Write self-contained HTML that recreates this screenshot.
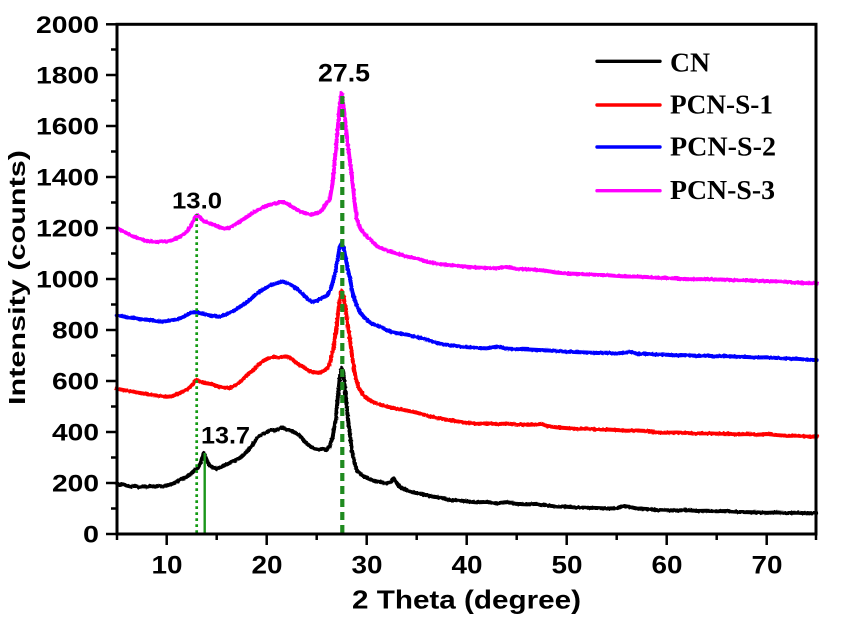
<!DOCTYPE html>
<html>
<head>
<meta charset="utf-8">
<style>
  html, body { margin: 0; padding: 0; background: #ffffff; }
  svg { display: block; }
  .tk { font-family: "Liberation Sans", Arial, sans-serif; font-weight: bold; fill: #000; }
  .lg { font-family: "Liberation Serif", "Times New Roman", serif; font-weight: bold; fill: #000; }
</style>
</head>
<body>
<svg width="865" height="617" viewBox="0 0 865 617" xmlns="http://www.w3.org/2000/svg">
  <defs>
    <filter id="rough" x="0" y="0" width="865" height="617" filterUnits="userSpaceOnUse">
      <feTurbulence type="fractalNoise" baseFrequency="0.45" numOctaves="1" seed="3" result="n"/>
      <feDisplacementMap in="SourceGraphic" in2="n" scale="2.2" xChannelSelector="R" yChannelSelector="G"/>
    </filter>
  </defs>
  <rect x="0" y="0" width="865" height="617" fill="#ffffff"/>

  <!-- data curves (data coordinates: x in degrees, y in counts) -->
  <g filter="url(#rough)">
  <g transform="matrix(10 0 0 -0.255 66.7 534)" fill="none" stroke-linejoin="round" stroke-linecap="round">
    <polyline vector-effect="non-scaling-stroke" stroke="#000000" stroke-width="4" points="5,198 5.3,192 5.6,195 6,190 6.4,186 6.8,189 7.2,184 7.6,187 8,185 8.4,188 8.8,185 9.2,189 9.6,186 10,190 10.4,195 10.8,200 11.2,210 11.6,218 12,224 12.4,236 12.8,250 13.1,258 13.4,280 13.7,318 14,290 14.3,268 14.7,260 15,256 15.4,262 15.8,270 16.2,276 16.6,285 17,292 17.4,300 17.8,315 18.2,330 18.6,350 19,375 19.3,385 19.6,392 20,400 20.4,408 20.8,405 21.2,412 21.6,418 22,410 22.4,405 22.8,398 23.2,390 23.6,372 24,355 24.4,342 24.8,335 25.2,332 25.6,334 26,330 26.3,345 26.6,380 26.9,450 27.1,530 27.3,610 27.5,652 27.7,620 27.9,540 28.1,460 28.3,400 28.5,330 28.8,275 29.1,245 29.5,232 30,220 30.5,212 31,206 31.5,203 32,198 32.4,205 32.7,218 33,200 33.4,182 34,172 34.5,165 35,160 35.5,156 36,152 36.7,146 37.3,143 38,136 38.5,131 39,133 40,128 41,124 42,126 43,120 44,125 45,118 46,116 47,118 48,112 49,108 50,107 51,104 52,103 53,102 54,100 55,101 55.7,110 56.3,106 57,100 58,98 59,94 60,93 61,92 62,94 63,90 64,91 65,89 66,90 67,87 68,86 69,85 70,83 71,85 72,82 73,84 74,81 75,83"/>
    <polyline vector-effect="non-scaling-stroke" stroke="#ff0000" stroke-width="4" points="5,570 5.5,566 6,562 6.5,560 7,555 7.5,552 8,548 8.5,545 9,543 9.5,540 10,538 10.5,540 11,548 11.5,556 12,565 12.4,578 12.8,598 13,604 13.3,598 13.7,592 14.2,590 14.7,585 15.2,578 15.7,574 16.2,572 16.7,580 17.2,592 17.7,610 18.2,628 18.7,645 19.2,665 19.7,680 20.2,690 20.7,695 21.2,692 21.7,696 22.2,694 22.7,680 23.2,665 23.7,655 24.2,640 24.7,635 25.2,632 25.7,640 26.1,650 26.4,680 26.7,735 27,820 27.3,920 27.5,955 27.7,930 28,850 28.3,770 28.6,680 28.9,610 29.2,575 29.6,548 30,532 30.5,520 31,512 31.5,505 32,500 32.5,495 33,492 33.5,488 34,484 34.5,480 35,476 35.5,470 36,465 36.5,460 37,456 37.5,452 38,448 38.5,446 39,442 40,436 41,432 42,434 43,431 44,433 45,430 46,428 47,430 47.5,432 48,424 49,418 50,415 51,412 52,414 53,410 54,410 55,408 56,405 57,406 58,404 59,398 60,397 61,398 62,396 63,394 64,395 65,393 66,394 67,390 68,392 69,389 70,392 71,388 72,385 73,386 74,382 75,382"/>
    <polyline vector-effect="non-scaling-stroke" stroke="#0000ff" stroke-width="4" points="5,858 5.5,855 6,850 6.5,848 7,845 7.5,842 8,840 8.5,838 9,835 9.5,833 10,835 10.5,838 11,842 11.5,848 12,858 12.4,868 12.8,870 13.2,868 13.7,862 14.2,858 14.7,855 15.2,852 15.7,858 16.2,865 16.7,875 17.2,888 17.7,900 18.2,915 18.7,932 19.2,948 19.7,960 20.2,972 20.7,980 21.2,986 21.6,990 22,985 22.5,975 23,962 23.5,945 24,925 24.5,910 25,915 25.5,925 26,935 26.4,960 26.8,1015 27.1,1080 27.3,1125 27.5,1142 27.7,1120 28,1060 28.3,1005 28.6,945 29,895 29.4,865 30,840 30.5,825 31,818 31.5,810 32,800 32.5,792 33,788 33.5,785 34,782 34.5,778 35,772 35.5,768 36,762 36.5,756 37,750 37.5,745 38,742 39,737 40,733 41,730 42,728 43,735 44,727 45,725 46,724 47,722 48,720 49,718 50,715 51,713 52,712 53,710 54,711 55,708 56,712 56.5,714 57,707 58,706 59,704 60,703 61,700 62,702 63,698 64,699 65,697 66,698 67,695 68,694 69,692 70,693 71,690 72,688 73,687 74,684 75,682"/>
    <polyline vector-effect="non-scaling-stroke" stroke="#ff00ff" stroke-width="4" points="5,1200 5.5,1190 6,1180 6.5,1170 7,1162 7.5,1155 8,1150 8.5,1147 9,1145 9.5,1148 10,1146 10.5,1152 11,1160 11.5,1170 12,1185 12.4,1205 12.8,1240 13,1250 13.3,1242 13.7,1228 14.2,1220 14.7,1212 15.2,1205 15.7,1198 16.2,1200 16.7,1210 17.2,1222 17.7,1235 18.2,1248 18.7,1262 19.2,1272 19.7,1282 20.2,1290 20.7,1295 21.2,1300 21.6,1302 22,1296 22.5,1285 23,1272 23.5,1262 24,1256 24.5,1252 25,1258 25.5,1268 26,1298 26.3,1310 26.6,1380 27,1545 27.3,1680 27.5,1730 27.8,1640 28.1,1530 28.5,1410 28.8,1300 29,1235 29.4,1195 30,1168 30.5,1150 31,1130 31.5,1120 32,1112 32.5,1106 33,1100 33.5,1095 34,1088 34.5,1084 35,1080 35.5,1075 36,1068 36.5,1064 37,1060 37.5,1058 38,1055 39,1052 40,1048 41,1045 42,1043 43,1042 44,1047 45,1040 46,1038 47,1036 48,1032 49,1025 50,1022 51,1020 52,1018 53,1016 54,1015 55,1012 56,1010 57,1010 58,1008 59,1005 60,1004 61,1002 62,1000 63,999 64,1000 65,998 66,997 67,995 68,996 69,993 70,992 71,990 72,989 73,986 74,984 75,983"/>
  </g>
  </g>

  <!-- green marker lines -->
  <line x1="196.7" y1="533" x2="196.7" y2="214" stroke="#129a12" stroke-width="2.7" stroke-dasharray="2.7 3.3"/>
  <line x1="204.7" y1="533" x2="204.7" y2="453" stroke="#1a961a" stroke-width="2.4"/>
  <line x1="342.3" y1="533" x2="342.3" y2="93" stroke="#1f8a1f" stroke-width="4.2" stroke-dasharray="8 5"/>

  <!-- axes frame -->
  <rect x="117" y="24.3" width="699" height="509.7" fill="none" stroke="#000" stroke-width="3"/>

  <!-- y ticks -->
  <g stroke="#000" stroke-width="2.5">
    <line x1="106" y1="534" x2="117" y2="534"/>
    <line x1="106" y1="483" x2="117" y2="483"/>
    <line x1="106" y1="432" x2="117" y2="432"/>
    <line x1="106" y1="381" x2="117" y2="381"/>
    <line x1="106" y1="330" x2="117" y2="330"/>
    <line x1="106" y1="279" x2="117" y2="279"/>
    <line x1="106" y1="228" x2="117" y2="228"/>
    <line x1="106" y1="177" x2="117" y2="177"/>
    <line x1="106" y1="126" x2="117" y2="126"/>
    <line x1="106" y1="75" x2="117" y2="75"/>
    <line x1="106" y1="24.3" x2="117" y2="24.3"/>
    <line x1="111" y1="508.5" x2="117" y2="508.5"/>
    <line x1="111" y1="457.5" x2="117" y2="457.5"/>
    <line x1="111" y1="406.5" x2="117" y2="406.5"/>
    <line x1="111" y1="355.5" x2="117" y2="355.5"/>
    <line x1="111" y1="304.5" x2="117" y2="304.5"/>
    <line x1="111" y1="253.5" x2="117" y2="253.5"/>
    <line x1="111" y1="202.5" x2="117" y2="202.5"/>
    <line x1="111" y1="151.5" x2="117" y2="151.5"/>
    <line x1="111" y1="100.5" x2="117" y2="100.5"/>
    <line x1="111" y1="49.5" x2="117" y2="49.5"/>
  </g>

  <!-- x ticks -->
  <g stroke="#000" stroke-width="2.5">
    <line x1="166.7" y1="534" x2="166.7" y2="545"/>
    <line x1="266.7" y1="534" x2="266.7" y2="545"/>
    <line x1="366.7" y1="534" x2="366.7" y2="545"/>
    <line x1="466.7" y1="534" x2="466.7" y2="545"/>
    <line x1="566.7" y1="534" x2="566.7" y2="545"/>
    <line x1="666.7" y1="534" x2="666.7" y2="545"/>
    <line x1="766.7" y1="534" x2="766.7" y2="545"/>
    <line x1="117" y1="534" x2="117" y2="540"/>
    <line x1="216.7" y1="534" x2="216.7" y2="540"/>
    <line x1="316.7" y1="534" x2="316.7" y2="540"/>
    <line x1="416.7" y1="534" x2="416.7" y2="540"/>
    <line x1="516.7" y1="534" x2="516.7" y2="540"/>
    <line x1="616.7" y1="534" x2="616.7" y2="540"/>
    <line x1="716.7" y1="534" x2="716.7" y2="540"/>
    <line x1="816" y1="534" x2="816" y2="540"/>
  </g>

  <!-- y tick labels -->
  <g class="tk" font-size="24.5" text-anchor="end">
    <text x="99" y="542.7" textLength="16" lengthAdjust="spacingAndGlyphs">0</text>
    <text x="99" y="491.7" textLength="47" lengthAdjust="spacingAndGlyphs">200</text>
    <text x="99" y="440.7" textLength="47" lengthAdjust="spacingAndGlyphs">400</text>
    <text x="99" y="389.7" textLength="47" lengthAdjust="spacingAndGlyphs">600</text>
    <text x="99" y="338.7" textLength="47" lengthAdjust="spacingAndGlyphs">800</text>
    <text x="99" y="287.7" textLength="63" lengthAdjust="spacingAndGlyphs">1000</text>
    <text x="99" y="236.7" textLength="63" lengthAdjust="spacingAndGlyphs">1200</text>
    <text x="99" y="185.7" textLength="63" lengthAdjust="spacingAndGlyphs">1400</text>
    <text x="99" y="134.7" textLength="63" lengthAdjust="spacingAndGlyphs">1600</text>
    <text x="99" y="83.7" textLength="63" lengthAdjust="spacingAndGlyphs">1800</text>
    <text x="99" y="33" textLength="63" lengthAdjust="spacingAndGlyphs">2000</text>
  </g>

  <!-- x tick labels -->
  <g class="tk" font-size="25" text-anchor="middle">
    <text x="167" y="573.5" textLength="31" lengthAdjust="spacingAndGlyphs">10</text>
    <text x="267" y="573.5" textLength="31" lengthAdjust="spacingAndGlyphs">20</text>
    <text x="367" y="573.5" textLength="31" lengthAdjust="spacingAndGlyphs">30</text>
    <text x="467" y="573.5" textLength="31" lengthAdjust="spacingAndGlyphs">40</text>
    <text x="567" y="573.5" textLength="31" lengthAdjust="spacingAndGlyphs">50</text>
    <text x="667" y="573.5" textLength="31" lengthAdjust="spacingAndGlyphs">60</text>
    <text x="767" y="573.5" textLength="31" lengthAdjust="spacingAndGlyphs">70</text>
  </g>

  <!-- axis titles -->
  <text class="tk" font-size="26" x="352" y="608.3" textLength="229" lengthAdjust="spacingAndGlyphs">2 Theta (degree)</text>
  <text class="tk" font-size="23.5" transform="translate(25,405) rotate(-90)" x="0" y="0" textLength="255" lengthAdjust="spacingAndGlyphs">Intensity (counts)</text>

  <!-- peak annotations -->
  <text class="tk" font-size="25" x="318" y="81.7" textLength="52" lengthAdjust="spacingAndGlyphs">27.5</text>
  <text class="tk" font-size="23.5" x="172" y="208.3" textLength="50" lengthAdjust="spacingAndGlyphs">13.0</text>
  <text class="tk" font-size="24" x="201" y="443.5" textLength="49" lengthAdjust="spacingAndGlyphs">13.7</text>

  <!-- legend -->
  <g stroke-width="3.4" stroke-linecap="round">
    <line x1="597" y1="61.3" x2="660" y2="61.3" stroke="#000000"/>
    <line x1="597" y1="105" x2="660" y2="105" stroke="#ff0000"/>
    <line x1="597" y1="147" x2="660" y2="147" stroke="#0000ff"/>
    <line x1="597" y1="190.7" x2="660" y2="190.7" stroke="#ff00ff"/>
  </g>
  <g class="lg" font-size="27">
    <text x="670" y="71.5" textLength="40" lengthAdjust="spacingAndGlyphs">CN</text>
    <text x="670" y="113.3" textLength="103" lengthAdjust="spacingAndGlyphs">PCN-S-1</text>
    <text x="670" y="155.5" textLength="106" lengthAdjust="spacingAndGlyphs">PCN-S-2</text>
    <text x="670" y="199" textLength="105" lengthAdjust="spacingAndGlyphs">PCN-S-3</text>
  </g>
</svg>
</body>
</html>
